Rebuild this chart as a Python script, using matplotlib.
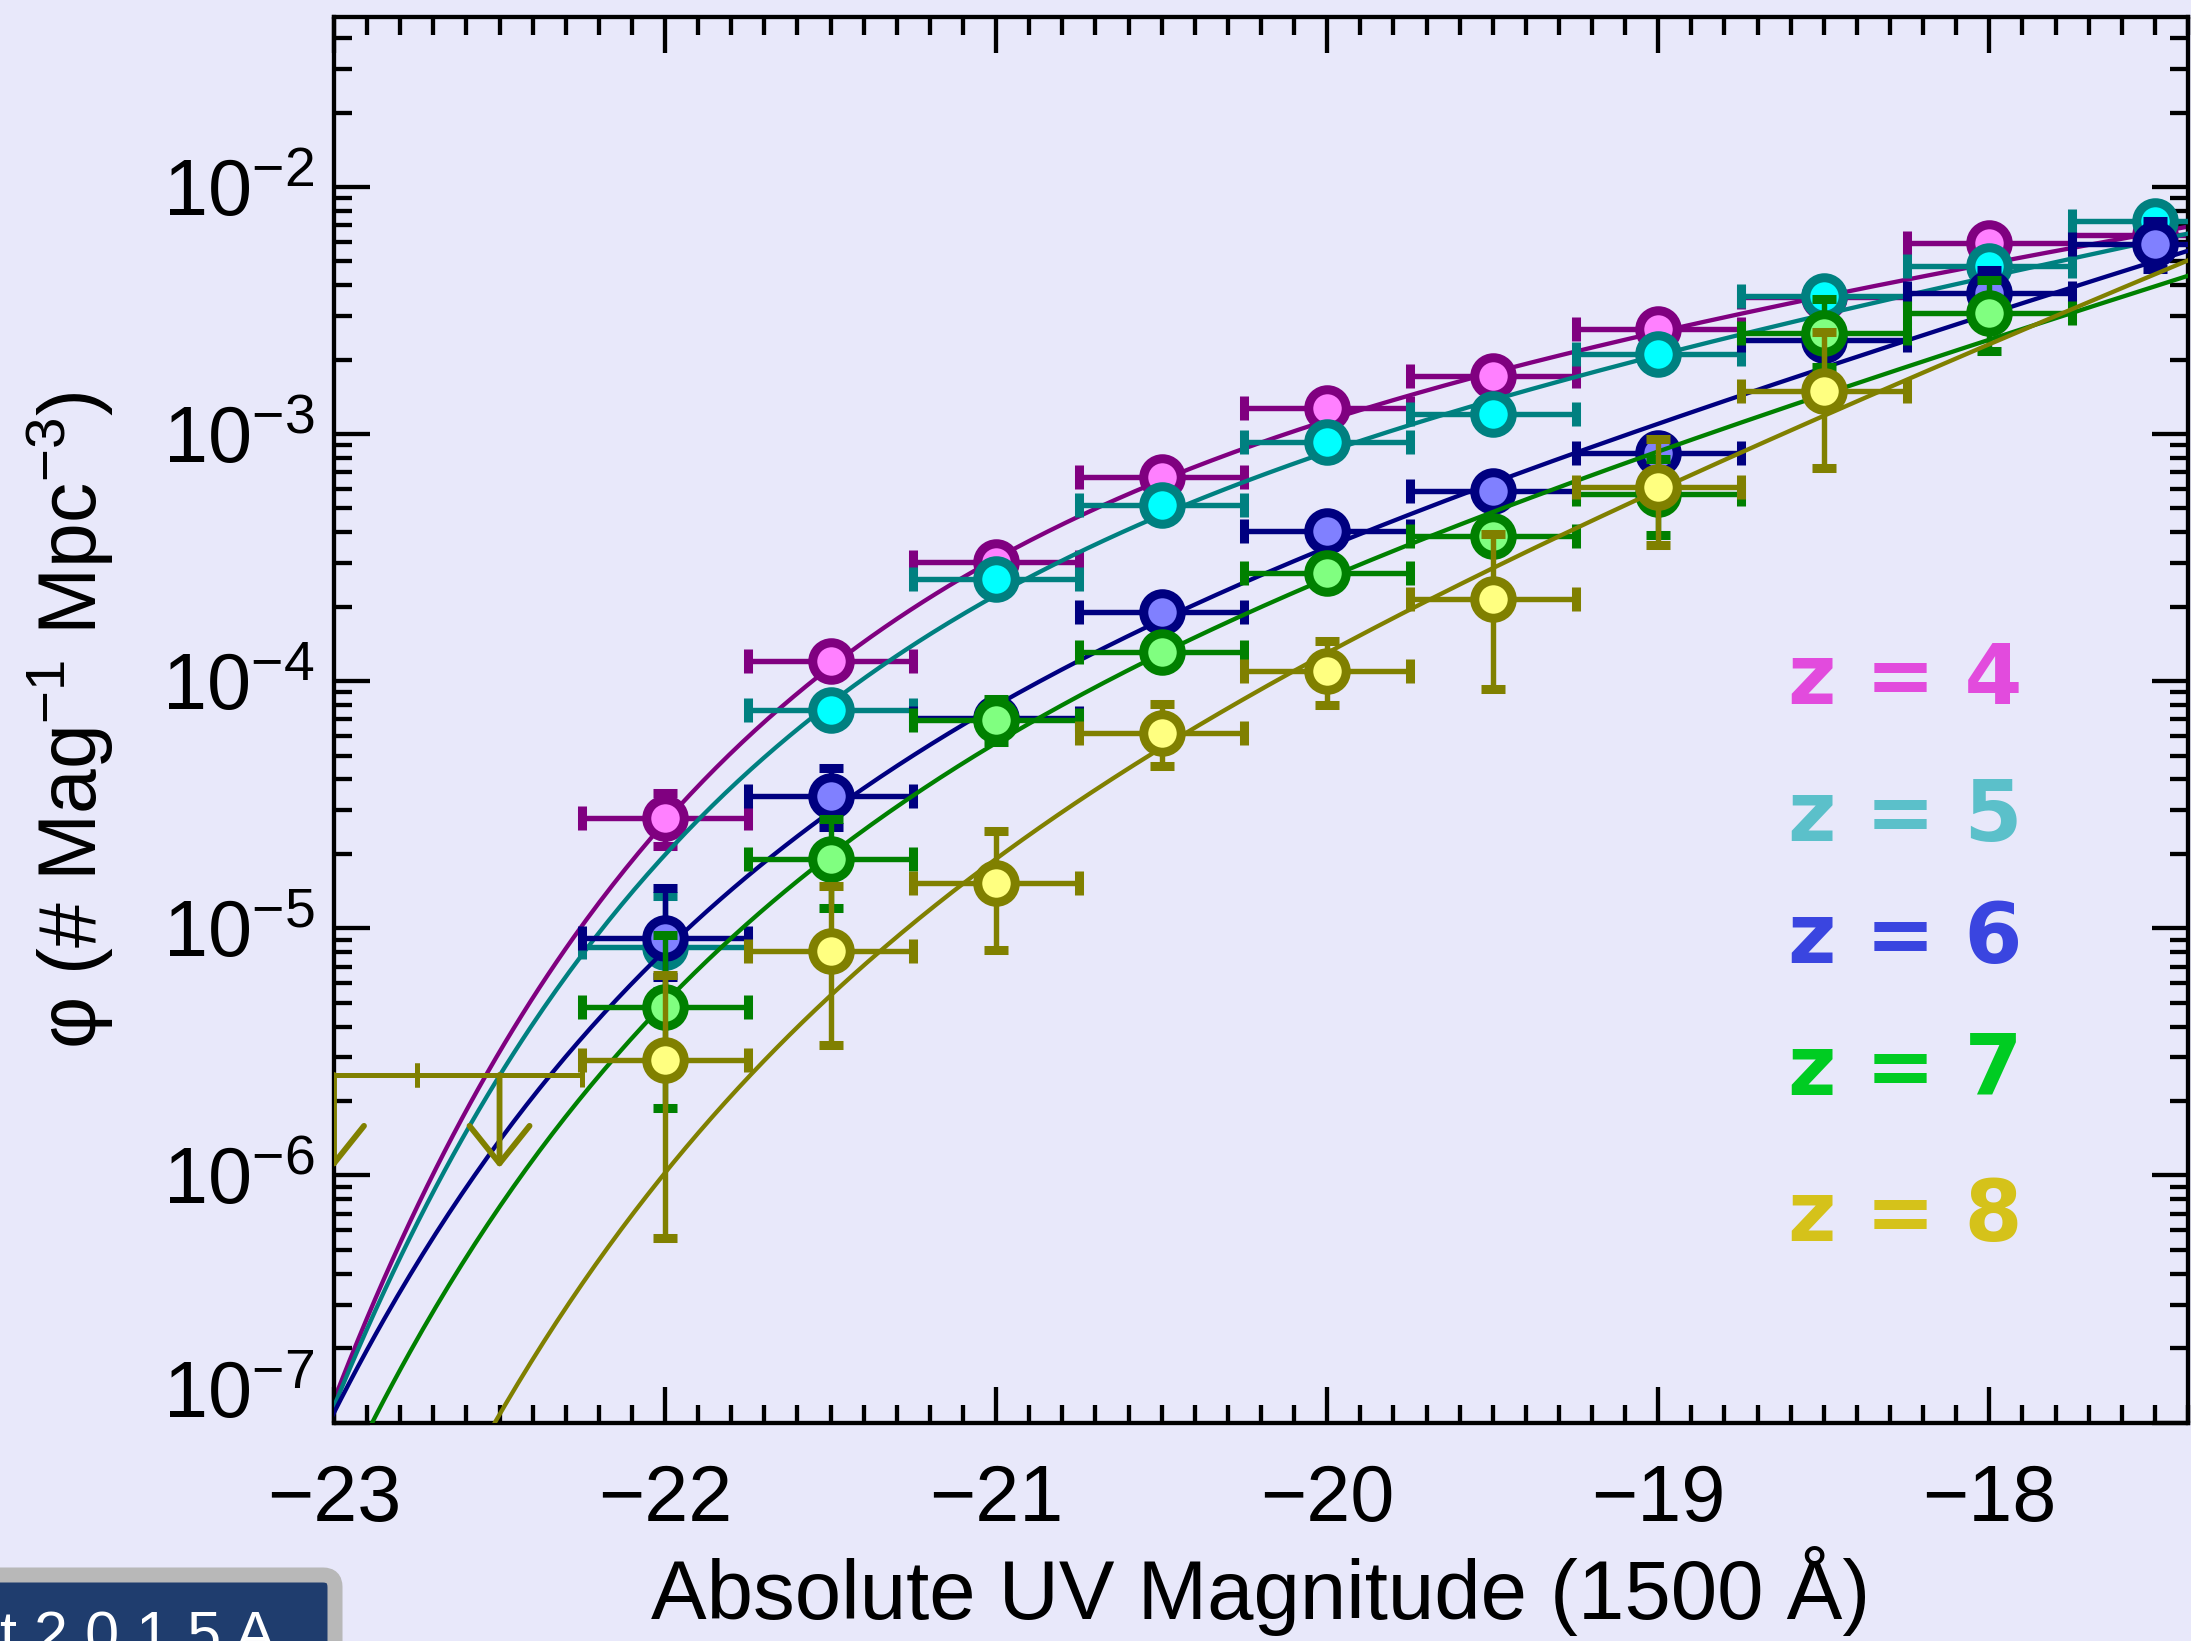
import numpy as np
import matplotlib
matplotlib.use('Agg')
import matplotlib.pyplot as plt
import matplotlib.patches as mpatches
from matplotlib.ticker import MultipleLocator, LogLocator, NullFormatter, FuncFormatter
from matplotlib.transforms import IdentityTransform

# binned UV luminosity function points (phi in # / mag / Mpc^3)
mag_z4 = [-22.0, -21.5, -21.0, -20.5, -20.0, -19.5, -19.0, -18.5, -18.0, -17.5]
phi_z4 = [2.79e-5, 1.21e-4, 3.04e-4, 6.71e-4, 1.27e-3, 1.71e-3, 2.65e-3, 3.59e-3, 5.93e-3, 6.41e-3]
up_z4 = [0.74e-5, 0.09e-4, 0.2e-4, 0.4e-4, 0.07e-3, 0.10e-3, 0.15e-3, 0.25e-3, 0.45e-3, 0.8e-3]
lo_z4 = [0.64e-5, 0.09e-4, 0.2e-4, 0.4e-4, 0.07e-3, 0.10e-3, 0.15e-3, 0.25e-3, 0.45e-3, 0.8e-3]

mag_z5 = [-22.0, -21.5, -21.0, -20.5, -20.0, -19.5, -19.0, -18.5, -18.0, -17.5]
phi_z5 = [8.38e-6, 7.67e-5, 2.58e-4, 5.18e-4, 9.29e-4, 1.20e-3, 2.10e-3, 3.63e-3, 4.78e-3, 7.26e-3]
up_z5 = [5.1e-6, 0.6e-5, 0.2e-4, 0.35e-4, 0.6e-4, 0.09e-3, 0.15e-3, 0.25e-3, 0.4e-3, 0.8e-3]
lo_z5 = [2.8e-6, 0.6e-5, 0.2e-4, 0.35e-4, 0.6e-4, 0.09e-3, 0.15e-3, 0.25e-3, 0.4e-3, 0.8e-3]

mag_z6 = [-22.0, -21.5, -21.0, -20.5, -20.0, -19.5, -19.0, -18.5, -18.0, -17.5]
phi_z6 = [9.14e-6, 3.44e-5, 7.08e-5, 1.91e-4, 4.05e-4, 5.90e-4, 8.38e-4, 2.40e-3, 3.73e-3, 5.85e-3]
up_z6 = [5.4e-6, 1.0e-5, 0.6e-5, 0.15e-4, 0.3e-4, 0.45e-4, 0.8e-4, 0.2e-3, 0.9e-3, 1.4e-3]
lo_z6 = [2.8e-6, 0.86e-5, 0.6e-5, 0.15e-4, 0.3e-4, 0.45e-4, 0.8e-4, 0.2e-3, 0.75e-3, 1.2e-3]

mag_z7 = [-22.0, -21.5, -21.0, -20.5, -20.0, -19.5, -19.0, -18.5, -18.0]
phi_z7 = [4.78e-6, 1.90e-5, 6.95e-5, 1.31e-4, 2.74e-4, 3.86e-4, 5.71e-4, 2.57e-3, 3.09e-3]
up_z7 = [4.6e-6, 0.88e-5, 1.5e-5, 0.12e-4, 0.25e-4, 0.4e-4, 2.2e-4, 0.94e-3, 1.13e-3]
lo_z7 = [2.9e-6, 0.69e-5, 1.3e-5, 0.12e-4, 0.25e-4, 0.4e-4, 1.8e-4, 0.71e-3, 0.92e-3]

mag_z8 = [-22.0, -21.5, -21.0, -20.5, -20.0, -19.5, -19.0, -18.5]
phi_z8 = [2.92e-6, 8.07e-6, 1.52e-5, 6.19e-5, 1.10e-4, 2.15e-4, 6.08e-4, 1.49e-3]
up_z8 = [3.58e-6, 6.8e-6, 9.5e-6, 1.88e-5, 3.5e-5, 1.79e-4, 3.45e-4, 1.1e-3]
lo_z8 = [2.36e-6, 4.7e-6, 7.0e-6, 1.64e-5, 2.96e-5, 1.22e-4, 2.54e-4, 7.6e-4]

# z=8 upper limits
lim_mag_z8 = [-23.0, -22.5]
lim_phi_z8 = [2.55e-6, 2.55e-6]

bin_half = 0.25

# Schechter fit parameters
redshifts = [4, 5, 6, 7, 8]
M_star = [-20.73, -20.81, -21.13, -21.03, -20.89]
alpha = [-1.56, -1.67, -2.02, -2.03, -2.36]
phi_star = [14.1e-4, 8.95e-4, 1.86e-4, 1.57e-4, 0.72e-4]

edge_cols = ['#800080', '#008080', '#000080', '#008000', '#808000']
fill_cols = ['#ff80ff', '#00ffff', '#8080ff', '#80ff80', '#ffff80']
label_cols = ['#e24bdd', '#5bc0ca', '#3a45e0', '#00cc22', '#d5c21a']
label_y = [0.511, 0.414, 0.327, 0.233, 0.129]

points = [
    (mag_z4, phi_z4, up_z4, lo_z4),
    (mag_z5, phi_z5, up_z5, lo_z5),
    (mag_z6, phi_z6, up_z6, lo_z6),
    (mag_z7, phi_z7, up_z7, lo_z7),
    (mag_z8, phi_z8, up_z8, lo_z8),
]

plt.rcParams['font.family'] = ['Liberation Sans', 'DejaVu Sans']
plt.rcParams['mathtext.fontset'] = 'custom'
plt.rcParams['mathtext.rm'] = 'Liberation Sans'
plt.rcParams['mathtext.it'] = 'Liberation Sans:italic'
plt.rcParams['mathtext.bf'] = 'Liberation Sans:bold'

bg = '#e8e8fa'
fig = plt.figure(figsize=(21.91, 16.41), dpi=100)
fig.patch.set_facecolor(bg)
ax = fig.add_axes([0.15244, 0.13315, 0.84619, 0.85661])
ax.set_facecolor(bg)


def schechter(M, Ms, a, ps):
    x = 10 ** (-0.4 * (M - Ms))
    return 0.4 * np.log(10) * ps * x ** (a + 1) * np.exp(-x)


M_grid = np.linspace(-23.5, -17.0, 500)
for i in range(5):
    ax.plot(M_grid, schechter(M_grid, M_star[i], alpha[i], phi_star[i]),
            color=edge_cols[i], lw=3.1, zorder=2 + i)
    m, p, u, l = points[i]
    ax.errorbar(m, p, xerr=bin_half, yerr=[l, u], fmt='o', ms=27, mew=6.5,
                mfc=fill_cols[i], mec=edge_cols[i], ecolor=edge_cols[i],
                elinewidth=3.9, capsize=8.6, capthick=3.9, zorder=2.5 + i)

# upper limits at z=8
ax.errorbar(lim_mag_z8, lim_phi_z8, xerr=bin_half, fmt='none', ecolor=edge_cols[4],
            elinewidth=3.6, capsize=8.6, capthick=3.6, zorder=7)
for mm, pp in zip(lim_mag_z8, lim_phi_z8):
    arr = mpatches.FancyArrowPatch((mm, pp), (mm, pp * 0.42),
                                   arrowstyle='->,head_length=1.0,head_width=0.8',
                                   mutation_scale=27, lw=4.2, color=edge_cols[4],
                                   shrinkA=0, shrinkB=0, zorder=7)
    ax.add_patch(arr)

for i, z in enumerate(redshifts):
    ax.text(0.9105, label_y[i], 'z = %d' % z, transform=ax.transAxes,
            ha='right', va='baseline', fontsize=60, fontweight='bold',
            family='DejaVu Sans', color=label_cols[i])

ax.set_xlim(-23, -17.4)
ax.set_yscale('log')
ax.set_ylim(1e-7, 0.0488)

ax.xaxis.set_major_locator(MultipleLocator(1))
ax.xaxis.set_minor_locator(MultipleLocator(0.1))
ax.yaxis.set_major_locator(LogLocator(base=10, numticks=20))
ax.yaxis.set_minor_locator(LogLocator(base=10, subs=np.arange(2, 10), numticks=20))
ax.yaxis.set_minor_formatter(NullFormatter())
ax.yaxis.set_major_formatter(FuncFormatter(
    lambda v, pos: '' if v < 1.5e-7 else r'$\mathregular{10^{%d}}$' % round(np.log10(v))))

ax.tick_params(which='both', direction='in', top=True, right=True, width=3.1, color='black')
ax.tick_params(which='major', length=26)
ax.tick_params(which='minor', length=13)
ax.tick_params(axis='x', labelsize=57, pad=29)
ax.tick_params(axis='y', labelsize=57, pad=14)
for s in ax.spines.values():
    s.set_linewidth(3.1)

ax.annotate(r'$\mathregular{10^{-7}}$', xy=(0, 1e-7), xycoords=('axes fraction', 'data'),
            xytext=(-14, 18), textcoords='offset points', ha='right', va='center',
            fontsize=57)

ax.set_xlabel('Absolute UV Magnitude (1500 Å)', fontsize=60, labelpad=6)
ax.set_ylabel(r'φ (# Mag$^{-1}$ Mpc$^{-3}$)', fontsize=58, labelpad=34)

# cut-off citation tag at bottom left
tag = mpatches.FancyBboxPatch((-30, -30), 365, 96, boxstyle='round,pad=0,rounding_size=12',
                              facecolor='#1f3d6e', edgecolor='#b8b8b8', lw=10.8,
                              transform=IdentityTransform())
fig.add_artist(tag)
fig.text(0.0, -0.0085, 't 2 0 1 5 A', color='white', fontsize=44, ha='left', va='baseline')

fig.savefig('out.png', dpi=100, facecolor=bg)
